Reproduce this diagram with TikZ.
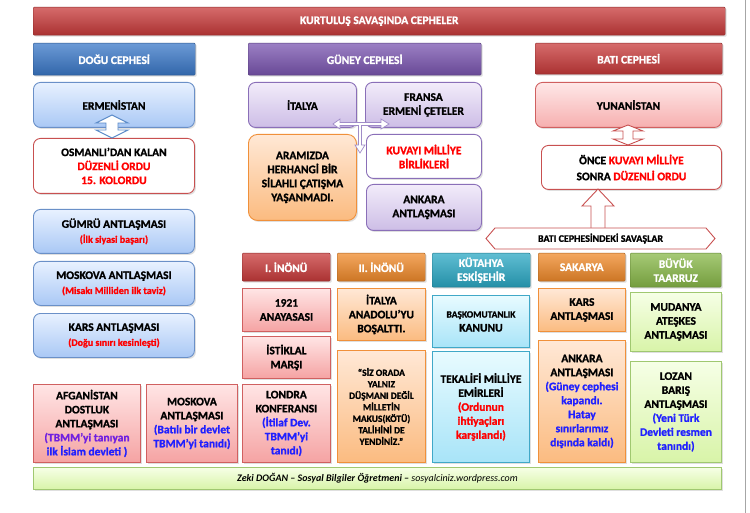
\documentclass[tikz,border=0pt]{standalone}
\usepackage{fontspec}
\setmainfont{Carlito}[BoldFeatures={FakeBold=1.2}]
\usetikzlibrary{shadows}
\definecolor{tred}{HTML}{FF0000}
\definecolor{tblue}{HTML}{2020FF}
\definecolor{tpurp}{HTML}{7020E0}
\definecolor{hred}{HTML}{C83A3A}
\definecolor{hblue}{HTML}{3A78C8}
\definecolor{hpurp}{HTML}{7A55B0}
\definecolor{horng}{HTML}{F08A2A}
\definecolor{hteal}{HTML}{2AA8C4}
\definecolor{hgrn}{HTML}{88B848}
\definecolor{blueD}{HTML}{6A90C8}\definecolor{blueT}{HTML}{E8F1FF}\definecolor{blueB}{HTML}{A9C8F5}
\definecolor{purD}{HTML}{8A6FB8}\definecolor{purT}{HTML}{F2ECFA}\definecolor{purB}{HTML}{CDBDE6}
\definecolor{orD}{HTML}{F0903A}\definecolor{orT}{HTML}{FFE8D6}\definecolor{orB}{HTML}{FBBB80}
\definecolor{pkD}{HTML}{D06060}\definecolor{pkT}{HTML}{FFE5E5}\definecolor{pkB}{HTML}{F5A3A3}
\definecolor{tlD}{HTML}{40A8C8}\definecolor{tlT}{HTML}{E8FBFF}\definecolor{tlB}{HTML}{A8E4F8}
\definecolor{grD}{HTML}{A0C870}\definecolor{grT}{HTML}{F6FFE6}\definecolor{grB}{HTML}{D8F4A8}
\definecolor{rdL}{HTML}{C85050}
\definecolor{arB}{HTML}{5A8AC8}
\definecolor{arP}{HTML}{A08CC8}
\definecolor{ynT}{HTML}{FFE8E8}\definecolor{ynB}{HTML}{F6AFAF}
\newcommand{\R}[1]{\textcolor{tred}{#1}}
\newcommand{\B}[1]{\textcolor{tblue}{#1}}
\begin{document}
\begin{tikzpicture}[x=1pt,y=-1pt,
  base/.style={anchor=north west,align=center,font=\fontsize{11.5}{14}\selectfont\bfseries,inner sep=1pt,
    drop shadow={opacity=0.25,shadow xshift=1.5pt,shadow yshift=-1.5pt}},
  hdr/.style={base,rounded corners=1pt,text=white,draw=#1!70!black,top color=#1!75!white,bottom color=#1!85!black},
  bx/.style n args={3}{base,draw=#1,top color=#2,bottom color=#3,line width=0.9pt},
  lblue/.style={bx={blueD}{blueT}{blueB},rounded corners=7pt},
  lpurp/.style={bx={purD}{purT}{purB},rounded corners=7pt},
  lorng/.style={bx={orD}{orT}{orB}},
  lpink/.style={bx={pkD}{pkT}{pkB}},
  lteal/.style={bx={tlD}{tlT}{tlB}},
  lgrn/.style={bx={grD}{grT}{grB}},
  wbox/.style={base,draw=#1,fill=white,line width=0.9pt,rounded corners=7pt},
  harrow/.style={fill=white,draw=#1,line width=0.9pt,line join=miter}
]
\useasboundingbox (0,0) rectangle (750,513);
\fill[white] (0,0) rectangle (750,513);
\draw[gray!70,line width=1pt] (745.5,0) -- (745.5,513);

% title and headers
\node[hdr=hred,minimum width=692pt,minimum height=28pt] (title) at (33,7) {KURTULUŞ SAVAŞINDA CEPHELER};
\node[hdr=hblue,minimum width=162pt,minimum height=32pt] (dogu) at (33,43) {DOĞU CEPHESİ};
\node[hdr=hpurp,minimum width=233pt,minimum height=32pt] (guney) at (248,43) {GÜNEY CEPHESİ};
\node[hdr=hred,minimum width=187pt,minimum height=31pt] (bati) at (535,43) {BATI CEPHESİ};

% Doğu
\node[lblue,minimum width=161pt,minimum height=45pt] (erm) at (33,82) {ERMENİSTAN};
\node[wbox=rdL,minimum width=161pt,minimum height=55pt] (osm) at (33,138) {OSMANLI’DAN KALAN\\\R{DÜZENLİ ORDU}\\\R{15. KOLORDU}};
\node[lblue,minimum width=161pt,minimum height=44pt] (gumru) at (33,209) {GÜMRÜ ANTLAŞMASI\\[1pt]{\fontsize{10}{12}\selectfont\R{(İlk siyasi başarı)}}};
\node[lblue,minimum width=161pt,minimum height=44pt] (mosk) at (33,261) {MOSKOVA ANTLAŞMASI\\[1pt]{\fontsize{10}{12}\selectfont\R{(Misakı Milliden ilk taviz)}}};
\node[lblue,minimum width=161pt,minimum height=44pt] (kars) at (33,313) {KARS ANTLAŞMASI\\[1pt]{\fontsize{10}{12}\selectfont\R{(Doğu sınırı kesinleşti)}}};
\draw[harrow=arB] (112,115) -- (128,123) -- (118,123) -- (118,130) -- (128,130) -- (112,138) -- (96,130) -- (106,130) -- (106,123) -- (96,123) -- cycle;

% Güney
\node[lpurp,minimum width=108pt,minimum height=45pt] (ital) at (248,82) {İTALYA};
\node[lpurp,minimum width=116pt,minimum height=45pt] (fran) at (365,82) {FRANSA\\ERMENİ ÇETELER};
\node[bx={orD}{orT}{orB},rounded corners=9pt,minimum width=108pt,minimum height=86pt] (aram) at (248,134) {ARAMIZDA\\HERHANGİ BİR\\SİLAHLI ÇATIŞMA\\YAŞANMADI.};
\node[wbox=purD,minimum width=115pt,minimum height=44pt] (kuva) at (366,134) {\R{KUVAYI MİLLİYE}\\\R{BİRLİKLERİ}};
\node[lpurp,minimum width=115pt,minimum height=46pt] (ank) at (366,184) {ANKARA\\ANTLAŞMASI};
\draw[harrow=arP,line width=0.7pt] (333,124) -- (340,119) -- (340,122.5) -- (381,122.5) -- (381,119) -- (389,124) -- (381,129) -- (381,125.5) -- (361.5,125.5) -- (361.5,145) -- (365,145) -- (360,153) -- (355,145) -- (358.5,145) -- (358.5,125.5) -- (340,125.5) -- (340,129) -- cycle;

% Batı
\node[bx={pkD}{ynT}{ynB},rounded corners=7pt,minimum width=186pt,minimum height=45pt] (yun) at (535,82) {YUNANİSTAN};
\node[wbox=rdL,minimum width=180pt,minimum height=44pt] (once) at (541,145) {ÖNCE \R{KUVAYI MİLLİYE}\\[2pt]SONRA \R{DÜZENLİ ORDU}};
\draw[harrow=rdL] (628,125) -- (643,131) -- (633,131) -- (633,139) -- (643,139) -- (628,145) -- (613,139) -- (623,139) -- (623,131) -- (613,131) -- cycle;
\draw[harrow=rdL] (598,189) -- (614,206) -- (605,206) -- (605,232) -- (591,232) -- (591,206) -- (582,206) -- cycle;
\fill[white] (486,238.5) -- (495,228) -- (706,228) -- (715,238.5) -- (706,249) -- (495,249) -- cycle;
\draw[rdL,line width=0.9pt] (486,238.5) -- (495,228) -- (706,228) -- (715,238.5) -- (706,249) -- (495,249) -- cycle;
\node[font=\fontsize{10}{11}\selectfont\bfseries] (savas) at (600.5,238.5) {BATI CEPHESİNDEKİ SAVAŞLAR};

% battle headers
\node[hdr=hred,minimum width=88pt,minimum height=28pt] (in1) at (242,253) {I. İNÖNÜ};
\node[hdr=horng,minimum width=88pt,minimum height=28pt] (in2) at (337,253) {II. İNÖNÜ};
\node[hdr=hteal,minimum width=98pt,minimum height=34pt] (kut) at (432,253) {KÜTAHYA\\ESKİŞEHİR};
\node[hdr=horng,minimum width=87pt,minimum height=28pt] (sak) at (538,253) {SAKARYA};
\node[hdr=hgrn,minimum width=91pt,minimum height=34pt] (buy) at (630,253) {BÜYÜK\\TAARRUZ};

% I. İnönü column
\node[lpink,minimum width=88pt,minimum height=43pt] (anay) at (242,288) {1921\\ANAYASASI};
\node[lpink,minimum width=88pt,minimum height=42pt] (ist) at (242,336) {İSTİKLAL\\MARŞI};
\node[lpink,minimum width=88pt,minimum height=78pt] (lond) at (242,384) {LONDRA\\KONFERANSI\\\B{(İtilaf Dev.}\\\B{TBMM’yi}\\\B{tanıdı)}};
% II. İnönü column
\node[lorng,minimum width=88pt,minimum height=52pt] (ita2) at (337,288) {İTALYA\\ANADOLU’YU\\BOŞALTTI.};
\node[lorng,minimum width=88pt,minimum height=112pt,font=\fontsize{9.5}{11.5}\selectfont\bfseries] (siz) at (337,350) {“SİZ ORADA\\YALNIZ\\DÜŞMANI DEĞİL\\MİLLETİN\\MAKUS(KÖTÜ)\\TALİHİNİ DE\\YENDİNİZ.”};
% Kütahya column
\node[lteal,minimum width=97pt,minimum height=52pt] (bask) at (432,295) {{\fontsize{9.5}{11}\selectfont BAŞKOMUTANLIK}\\KANUNU};
\node[lteal,minimum width=97pt,minimum height=111pt] (tek) at (432,351) {TEKALİFİ MİLLİYE\\EMİRLERİ\\\R{(Ordunun}\\\R{ihtiyaçları}\\\R{karşılandı)}};
% Sakarya column
\node[lorng,minimum width=87pt,minimum height=43pt] (kars2) at (538,288) {KARS\\ANTLAŞMASI};
\node[lorng,minimum width=87pt,minimum height=122pt] (ank2) at (538,340) {ANKARA\\ANTLAŞMASI\\\B{(Güney cephesi}\\\B{kapandı.}\\\B{Hatay}\\\B{sınırlarımız}\\\B{dışında kaldı)}};
% Büyük Taarruz column
\node[lgrn,minimum width=91pt,minimum height=59pt] (mud) at (630,292) {MUDANYA\\ATEŞKES\\ANTLAŞMASI};
\node[lgrn,minimum width=91pt,minimum height=101pt] (loz) at (630,361) {LOZAN\\BARIŞ\\ANTLAŞMASI\\\B{(Yeni Türk}\\\B{Devleti resmen}\\\B{tanındı)}};

% bottom left
\node[lpink,minimum width=107pt,minimum height=78pt] (afg) at (33,384) {AFGANİSTAN\\DOSTLUK\\ANTLAŞMASI\\\textcolor{tpurp}{(TBMM’yi tanıyan}\\\B{ilk İslam devleti )}};
\node[lpink,minimum width=91pt,minimum height=78pt] (mosk2) at (146,384) {MOSKOVA\\ANTLAŞMASI\\\B{(Batılı bir devlet}\\\B{TBMM’yi tanıdı)}};

% footer
\node[lgrn,minimum width=688pt,minimum height=22pt,font=\fontsize{10}{11}\selectfont] (foot) at (33,467) {\textbf{\textit{Zeki DOĞAN – Sosyal Bilgiler Öğretmeni –}} \textit{sosyalciniz.wordpress.com}};
\end{tikzpicture}
\end{document}
